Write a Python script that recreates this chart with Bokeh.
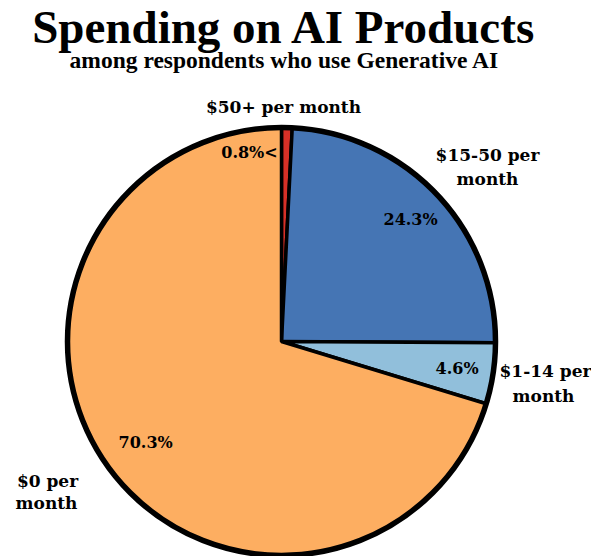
import numpy as np
from bokeh.plotting import figure
from bokeh.models import Range1d
from bokeh.core.properties import value
from bokeh.embed import file_html
from bokeh.resources import INLINE

# ---------------- data ----------------
categories = ["$50+ per month", "$15-50 per month", "$1-14 per month", "$0 per month"]
shares = [0.8, 24.3, 4.6, 70.3]
colors = ["#d73027", "#4575b4", "#91bfdb", "#fdae61"]
pct_labels = ["0.8%<", "24.3%", "4.6%", "70.3%"]
cat_lines = [["$50+ per month"], ["$15-50 per", "month"], ["$1-14 per", "month"], ["$0 per", "month"]]

title = "Spending on AI Products"
subtitle = "among respondents who use Generative AI"

# ---------------- layout ----------------
W, H = 591, 556
CX, CY, R = 281, 215, 214
SERIF = "DejaVu Serif"

p = figure(width=W, height=H, output_backend="svg", toolbar_location=None,
           x_range=Range1d(0, W), y_range=Range1d(0, H), min_border=0)
p.axis.visible = False
p.grid.visible = False
p.outline_line_color = None
p.background_fill_color = "white"

vals = np.array(shares, dtype=float)
frac = vals / vals.sum()
cum_end = np.cumsum(frac)
cum_start = cum_end - frac
start = np.pi / 2 - cum_end * 2 * np.pi
end = np.pi / 2 - cum_start * 2 * np.pi
mid = (start + end) / 2

p.wedge(x=CX, y=CY, radius=R, start_angle=list(start), end_angle=list(end),
        fill_color=colors, line_color="black", line_width=3.5, direction="anticlock")
p.circle(x=[CX], y=[CY], radius=R, fill_color=None, line_color="black", line_width=5.5)

# percentage labels
radial = [None, 0.83, 0.83, 0.79]
pct_pos = []
for i, a in enumerate(mid):
    if i == 0:
        pct_pos.append((CX - 32, CY + 189))
    else:
        f = radial[i]
        pct_pos.append((CX + f * R * np.cos(a), CY + f * R * np.sin(a)))
p.text(x=[q[0] for q in pct_pos], y=[q[1] for q in pct_pos], text=pct_labels,
       text_font=value(SERIF), text_font_style="bold", text_font_size="16px",
       text_align="center", text_baseline="middle", text_color="black")

# category labels (line offsets relative to pie centre)
cat_offsets = [[(2, 235)], [(206, 187), (206, 163)], [(264, -29), (262, -54)],
               [(-234, -139), (-235, -161)]]
xs, ys, ts = [], [], []
for lines, offs in zip(cat_lines, cat_offsets):
    for t, (dx, dy) in zip(lines, offs):
        xs.append(CX + dx)
        ys.append(CY + dy)
        ts.append(t)
p.text(x=xs, y=ys, text=ts, text_font=value(SERIF), text_font_style="bold",
       text_font_size="17px", text_align="center", text_baseline="middle",
       text_color="black")

# titles
p.text(x=[284], y=[H - 26], text=[title], text_font=value("Liberation Serif"),
       text_font_style="bold", text_font_size="47px", text_align="center",
       text_baseline="middle", text_color="black")
p.text(x=[284], y=[H - 59], text=[subtitle], text_font=value("Liberation Serif"),
       text_font_style="bold", text_font_size="23.5px", text_align="center",
       text_baseline="middle", text_color="black")

open("out.html", "w").write(file_html(p, INLINE))
